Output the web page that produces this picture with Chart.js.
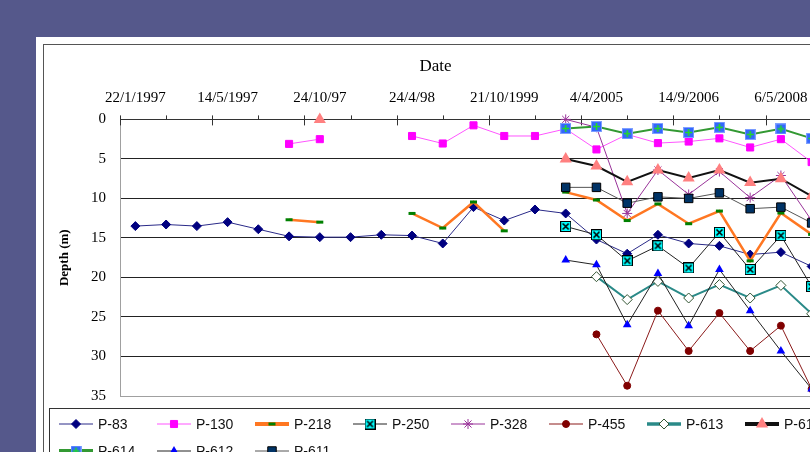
<!DOCTYPE html>
<html>
<head>
<meta charset="utf-8">
<script src="https://cdn.jsdelivr.net/npm/chart.js@4.4.1/dist/chart.umd.min.js"></script>
<style>
  body { margin: 0; width: 810px; height: 452px; overflow: hidden; position: relative; background: #55588b; }
  #sheet { position: absolute; left: 36px; top: 37px; width: 900px; height: 500px; background: #fff; }
  #frame { position: absolute; left: 43px; top: 44px; width: 900px; height: 500px; border: 1px solid #555; box-sizing: border-box; }
  #chart { position: absolute; left: 44px; top: 45px; }
  #legend { position: absolute; left: 49px; top: 408px; width: 860px; height: 80px; border: 1px solid #333;
            box-sizing: border-box; padding: 1px 0 0 9px; display: grid; grid-template-columns: repeat(8, 98px);
            grid-auto-rows: 27px; font: 14px "Liberation Sans", Arial, sans-serif; color: #111; }
  .item { display: flex; align-items: center; white-space: nowrap; }
  .item canvas { margin-right: 5px; }
</style>
</head>
<body>
<div id="sheet"></div>
<div id="frame"></div>
<canvas id="chart" width="834" height="374"></canvas>
<div id="legend"></div>
<script>
// top axis labels, one every 3 samples
const tickLabels = ['22/1/1997', '14/5/1997', '24/10/97', '24/4/98', '21/10/1999', '4/4/2005', '14/9/2006', '6/5/2008'];
const labelEvery = 3;
const sampleCount = 23;

// depth (m) per sample, null = no reading
const p83  = [13.5, 13.3, 13.5, 13.0, 13.9, 14.8, 14.9, 14.9, 14.6, 14.7, 15.7, 11.1, 12.8, 11.4, 11.9, 15.2, 17.0, 14.6, 15.7, 16.0, 17.1, 16.8, 18.6];
const p130 = [null, null, null, null, null, 3.1, 2.5, null, null, 2.1, 3.05, 0.75, 2.1, 2.1, 1.2, 3.8, 1.9, 3.0, 2.8, 2.4, 3.55, 2.5, 5.4];
const p218 = [null, null, null, null, null, 12.7, 13.0, null, null, 11.9, 13.75, 10.45, 14.1, null, 9.2, 10.2, 12.8, 10.7, 13.2, 11.6, 17.9, 11.85, 14.55];
const p250 = [null, null, null, null, null, null, null, null, null, null, null, null, null, null, 13.55, 14.6, 17.9, 16.0, 18.8, 14.3, 19.0, 14.7, 21.15];
const p328 = [null, null, null, null, null, null, null, null, null, null, null, null, null, null, 0, 1.0, 11.9, 6.4, 9.5, 6.6, 9.9, 7.1, 12.8];
const p455 = [null, null, null, null, null, null, null, null, null, null, null, null, null, null, null, 27.2, 33.7, 24.2, 29.3, 24.5, 29.3, 26.1, 34.1];
const p613 = [null, null, null, null, null, null, null, null, null, null, null, null, null, null, null, 19.9, 22.8, 20.5, 22.6, 20.9, 22.6, 21.0, 24.6];
const p615 = [null, null, null, null, null, null, 0, null, null, null, null, null, null, null, 5.0, 5.9, 7.9, 6.4, 7.4, 6.4, 8.0, 7.5, 9.7];
const p614 = [null, null, null, null, null, null, null, null, null, null, null, null, null, null, 1.15, 0.9, 1.8, 1.15, 1.65, 1.0, 1.9, 1.2, 2.4];
const p612 = [null, null, null, null, null, null, null, null, null, null, null, null, null, null, 17.8, 18.4, 26.0, 19.5, 26.1, 19.0, 24.2, 29.3, 34.1];
const p611 = [null, null, null, null, null, null, null, null, null, null, null, null, null, null, 8.6, 8.6, 10.6, 9.8, 10.0, 9.3, 11.3, 11.1, 13.1];

const serif = '"Liberation Serif", "Times New Roman", serif';

// little canvas markers for the Excel styles Chart.js has no shape for
const boxMarker = (outer, inner, cross, drawCross) => {
    const c = document.createElement('canvas');
    c.width = 11; c.height = 11;
    const g = c.getContext('2d');
    g.fillStyle = outer; g.fillRect(0, 0, 11, 11);
    g.fillStyle = inner; g.fillRect(1, 1, 9, 9);
    g.strokeStyle = cross; g.lineWidth = 1.6;
    g.beginPath(); drawCross(g); g.stroke();
    return c;
};
const markX = boxMarker('#000', '#00ffff', '#000', g => {
    g.moveTo(2.5, 2.5); g.lineTo(8.5, 8.5); g.moveTo(8.5, 2.5); g.lineTo(2.5, 8.5);
});
const markPlus = boxMarker('#7fa0ff', '#3366ff', '#22dd22', g => {
    g.moveTo(5.5, 2); g.lineTo(5.5, 9); g.moveTo(2, 5.5); g.lineTo(9, 5.5);
});

const series = [
    {name: 'P-83',  data: p83,  line: '#2a2a88', width: 1,   style: 'rectRot',  r: 4.5, fill: '#000080', edge: '#000080', bw: 1},
    {name: 'P-130', data: p130, line: '#ff55ff', width: 1,   style: 'rect',     r: 5,   fill: '#ff00ff', edge: '#ff00ff', bw: 1},
    {name: 'P-218', data: p218, line: '#ff7722', width: 2.5, style: 'line',     r: 3.5, fill: '#008000', edge: '#008000', bw: 3, legendWidth: 4},
    {name: 'P-250', data: p250, line: '#222',    width: 1,   style: markX,      r: 5},
    {name: 'P-328', data: p328, line: '#993399', width: 1,   style: 'star',     r: 5,   fill: '#993399', edge: '#993399', bw: 1},
    {name: 'P-455', data: p455, line: '#8b1a1a', width: 1,   style: 'circle',   r: 3.5, fill: '#800000', edge: '#800000', bw: 1},
    {name: 'P-613', data: p613, line: '#2a8a88', width: 2,   style: 'rectRot',  r: 5,   fill: '#fff',    edge: '#335533', bw: 1, legendWidth: 3.5},
    {name: 'P-615', data: p615, line: '#111',    width: 2,   style: 'triangle', r: 7,   fill: '#ff8080', edge: '#ff8080', bw: 0, legendWidth: 4},
    {name: 'P-614', data: p614, line: '#339933', width: 2,   style: markPlus,   r: 5,   legendWidth: 4},
    {name: 'P-612', data: p612, line: '#222',    width: 1,   style: 'triangle', r: 5,   fill: '#0000ff', edge: '#0000ff', bw: 0},
    {name: 'P-611', data: p611, line: '#555',    width: 1,   style: 'rect',     r: 6,   fill: '#003366', edge: '#000',    bw: 1},
];

const datasets = series.map((s, i) => ({
    label: s.name,
    data: s.data.map((v, k) => ({x: k, y: v})),
    borderColor: s.line,
    borderWidth: s.width,
    pointStyle: s.style,
    pointRadius: s.r,
    pointBackgroundColor: s.fill,
    pointBorderColor: s.edge,
    pointBorderWidth: s.bw ?? 0,
    spanGaps: false,
    tension: 0,
    clip: false,
    order: series.length - i,   // later series on top, like Excel
}));

// Excel-style top axis marks: crossing every 3 samples, short ones in between
const topTicks = {
    id: 'topTicks',
    beforeDatasetsDraw(chart) {
        const {ctx, chartArea} = chart;
        const x = chart.scales.x;
        ctx.save();
        ctx.strokeStyle = '#333';
        ctx.lineWidth = 1;
        for (let k = 0; -0.5 + k * 1.5 <= x.max + 0.01; k++) {
            const px = Math.round(x.getPixelForValue(-0.5 + k * 1.5)) + 0.5;
            ctx.beginPath();
            ctx.moveTo(px, chartArea.top - 4);
            ctx.lineTo(px, chartArea.top + (k % 2 === 0 ? 6 : 0));
            ctx.stroke();
        }
        ctx.restore();
    }
};

new Chart(document.getElementById('chart'), {
    type: 'line',
    data: {datasets},
    plugins: [topTicks],
    options: {
        responsive: false,
        animation: false,
        layout: {padding: {left: 0, right: 51, top: 0, bottom: 11}},
        plugins: {
            legend: {display: false},
            tooltip: {enabled: false},
            title: {
                display: true, text: 'Date', color: '#000',
                font: {family: serif, size: 17, weight: 'normal'},
                padding: {top: 11, bottom: 6}
            }
        },
        scales: {
            x: {
                type: 'linear', position: 'top', bounds: 'data',
                min: -0.5, max: sampleCount - 0.5,
                afterBuildTicks: s => { s.ticks = tickLabels.map((t, k) => ({value: k * labelEvery})); },
                afterFit: s => { s.height = 37; },
                ticks: {
                    autoSkip: false, maxRotation: 0, padding: 12, color: '#000',
                    font: {family: serif, size: 15},
                    callback: v => tickLabels[Math.round(v / labelEvery)] ?? ''
                },
                grid: {drawOnChartArea: false, drawTicks: false},
                border: {color: '#333', width: 1}
            },
            y: {
                reverse: true, min: 0, max: 35,
                afterFit: s => { s.width = 76; },
                ticks: {stepSize: 5, padding: 14, color: '#000', font: {family: serif, size: 15}},
                grid: {
                    drawTicks: false,
                    color: c => c.tick.value === 35 ? '#a0a0a0' : '#222',
                    lineWidth: 1
                },
                border: {color: '#a0a0a0'},
                title: {
                    display: true, text: 'Depth (m)', color: '#000',
                    font: {family: serif, size: 13, weight: 'bold'},
                    padding: {top: 13, bottom: 0}
                }
            }
        }
    }
});

// legend: fixed columns, line with the marker in the middle
const legendBox = document.getElementById('legend');
series.forEach(s => {
    const item = document.createElement('div');
    item.className = 'item';
    const c = document.createElement('canvas');
    c.width = 34; c.height = 14;
    const g = c.getContext('2d');
    g.strokeStyle = s.line;
    g.lineWidth = s.legendWidth || s.width;
    g.beginPath(); g.moveTo(0, 7); g.lineTo(34, 7); g.stroke();
    g.fillStyle = s.fill || '#000';
    g.strokeStyle = s.edge || '#000';
    g.lineWidth = s.bw || 0;
    Chart.helpers.drawPoint(g, {pointStyle: s.style, radius: s.r, rotation: 0, borderWidth: s.bw || 0}, 17, 7);
    const label = document.createElement('span');
    label.textContent = s.name;
    item.appendChild(c);
    item.appendChild(label);
    legendBox.appendChild(item);
});
</script>
</body>
</html>
